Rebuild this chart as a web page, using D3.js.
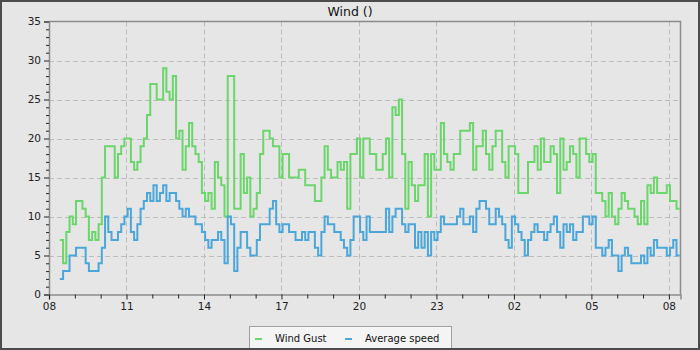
<!DOCTYPE html>
<html>
<head>
<meta charset="utf-8">
<script src="https://cdn.jsdelivr.net/npm/d3@7"></script>
<style>
  html, body { margin: 0; padding: 0; background: #e6e6e6; }
  svg { display: block; font-family: "DejaVu Sans", sans-serif; }
</style>
</head>
<body>
<svg id="chart" width="700" height="350"></svg>
<script>
// Readings taken every 3 hours (0.125 day), starting 0.42 day after the first tick
const startDay = 0.42;
const stepDays = 0.125;

// Wind gust (top series)
const gust = [
  7, 4, 8, 10, 9, 12, 12, 11, 10, 7, 8, 7, 9, 15, 19, 19, 19, 15, 18, 19,
  20, 20, 17, 16, 17, 19, 20, 23, 27, 27, 25, 25, 29, 26, 25, 28, 20, 21, 16, 19,
  22, 19, 18, 17, 13, 12, 13, 11, 17, 15, 14, 10, 28, 28, 11, 11, 18, 13, 15, 10,
  11, 13, 18, 21, 21, 20, 19, 19, 15, 18, 18, 15, 15, 15, 16, 16, 14, 14, 14, 12,
  12, 15, 19, 16, 15, 15, 17, 16, 17, 11, 18, 18, 20, 15, 20, 20, 18, 18, 16, 16,
  18, 20, 15, 24, 23, 25, 18, 11, 17, 14, 12, 14, 14, 18, 10, 18, 16, 16, 22, 18,
  17, 16, 18, 18, 21, 21, 21, 22, 16, 19, 19, 21, 18, 16, 19, 21, 21, 17, 15, 19,
  19, 18, 13, 13, 13, 17, 17, 19, 16, 20, 17, 17, 19, 18, 13, 20, 16, 17, 19, 18,
  15, 20, 20, 18, 17, 18, 13, 13, 12, 10, 13, 10, 9, 11, 13, 12, 11, 11, 10, 9,
  12, 9, 14, 13, 15, 13, 13, 13, 14, 12, 12, 11, 11
];

// Average wind speed (bottom series)
const avgSpeed = [
  2, 3, 3, 5, 5, 6, 6, 6, 4, 3, 3, 3, 4, 6, 10, 8, 7, 7, 8, 9,
  10, 11, 8, 7, 9, 11, 12, 13, 12, 14, 12, 13, 14, 12, 13, 13, 12, 11, 10, 11,
  10, 10, 9, 9, 8, 7, 6, 7, 7, 8, 7, 4, 10, 9, 3, 6, 8, 8, 6, 5,
  5, 7, 9, 9, 9, 11, 12, 9, 8, 9, 9, 8, 8, 7, 7, 8, 7, 8, 8, 6,
  5, 8, 10, 9, 9, 8, 8, 7, 6, 5, 7, 10, 10, 8, 7, 10, 8, 8, 8, 8,
  8, 11, 8, 10, 11, 11, 9, 8, 9, 9, 6, 8, 6, 8, 5, 8, 7, 8, 10, 9,
  9, 9, 9, 10, 11, 9, 9, 10, 8, 11, 12, 12, 11, 9, 9, 11, 10, 9, 7, 6,
  10, 9, 8, 7, 5, 7, 8, 9, 8, 8, 7, 8, 9, 10, 8, 6, 9, 8, 9, 7,
  8, 8, 10, 10, 9, 10, 6, 6, 5, 6, 7, 5, 5, 3, 5, 6, 5, 4, 4, 4,
  5, 4, 6, 5, 7, 6, 6, 6, 5, 6, 7, 5, 5
];

// Date labels every 3 days
const dayTickLabels = ["08", "11", "14", "17", "20", "23", "02", "05", "08"];
const seriesNames = ["Wind Gust", "Average speed"];
const seriesColors = ["#6bd66b", "#4ba6da"];
const yMax = 35;
const dayEnd = 24.45;

const W = 700, H = 350;
const plot = { left: 49, right: 680.5, top: 21.5, bottom: 294.5 };

const svg = d3.select("#chart");

// background and outer frame
svg.append("rect").attr("x", 0).attr("y", 0).attr("width", W).attr("height", H)
  .attr("fill", "#e6e6e6");
svg.append("rect").attr("x", 1).attr("y", 1).attr("width", W - 2).attr("height", H - 2)
  .attr("fill", "none").attr("stroke", "#4c4c4c").attr("stroke-width", 2);

const x = d3.scaleLinear().domain([0, dayEnd]).range([plot.left, plot.right]);
const y = d3.scaleLinear().domain([0, yMax]).range([plot.bottom, plot.top]);

const majorDays = dayTickLabels.map((_, i) => i * 3);
const minorDays = d3.range(0, Math.floor(dayEnd) + 1);

// grid
const grid = svg.append("g").attr("stroke", "#bdbdbd").attr("stroke-dasharray", "5,3")
  .attr("stroke-width", 1);
grid.selectAll("line.h").data(d3.range(5, yMax, 5)).join("line")
  .attr("x1", plot.left).attr("x2", plot.right)
  .attr("y1", d => Math.round(y(d)) + 0.5).attr("y2", d => Math.round(y(d)) + 0.5);
grid.selectAll("line.v").data(majorDays.slice(1)).join("line")
  .attr("y1", plot.top).attr("y2", plot.bottom)
  .attr("x1", d => Math.round(x(d)) + 0.5).attr("x2", d => Math.round(x(d)) + 0.5);

// plot frame (top and right)
svg.append("path")
  .attr("d", `M${plot.left},${plot.top}H${plot.right}V${plot.bottom}`)
  .attr("fill", "none").attr("stroke", "#8c8c8c").attr("stroke-width", 1.5);

// series
svg.append("clipPath").attr("id", "clip").append("rect")
  .attr("x", plot.left).attr("y", plot.top)
  .attr("width", plot.right - plot.left).attr("height", plot.bottom - plot.top);

const line = d3.line()
  .x((d, i) => x(startDay + i * stepDays))
  .y(d => y(d))
  .curve(d3.curveStepAfter);

const lines = svg.append("g").attr("clip-path", "url(#clip)");
[gust, avgSpeed].forEach((vals, k) => {
  lines.append("path").datum(vals)
    .attr("d", line)
    .attr("fill", "none")
    .attr("stroke", seriesColors[k])
    .attr("stroke-width", 2)
    .attr("stroke-linejoin", "miter");
});

// y axis
const yAxis = svg.append("g").attr("transform", `translate(${plot.left},0)`)
  .call(d3.axisLeft(y).tickValues(d3.range(0, yMax + 1, 5)).tickSize(5).tickPadding(3));
yAxis.select(".domain").attr("stroke", "#8c8c8c").attr("stroke-width", 1.5);
yAxis.selectAll(".tick line").attr("stroke", "#222");
yAxis.selectAll(".tick text").attr("font-size", 10.5).attr("fill", "#222")
  .attr("font-family", "DejaVu Sans");
svg.append("g").attr("transform", `translate(${plot.left},0)`)
  .call(d3.axisLeft(y).tickValues(d3.range(0, yMax + 1, 1).filter(v => v % 5))
    .tickSize(3).tickFormat(""))
  .call(g => g.select(".domain").remove())
  .selectAll(".tick line").attr("stroke", "#222");

// x axis
const xAxis = svg.append("g").attr("transform", `translate(0,${plot.bottom})`)
  .call(d3.axisBottom(x).tickValues(majorDays).tickSize(5).tickPadding(3)
    .tickFormat((d, i) => dayTickLabels[i]));
xAxis.select(".domain").attr("stroke", "#8c8c8c").attr("stroke-width", 1.5);
xAxis.selectAll(".tick line").attr("stroke", "#222");
xAxis.selectAll(".tick text").attr("font-size", 10.5).attr("fill", "#222")
  .attr("font-family", "DejaVu Sans");
svg.append("g").attr("transform", `translate(0,${plot.bottom})`)
  .call(d3.axisBottom(x).tickValues(minorDays.filter(d => d % 3)).tickSize(4).tickFormat(""))
  .call(g => g.select(".domain").remove())
  .selectAll(".tick line").attr("stroke", "#222");

// title
svg.append("text").attr("x", W / 2).attr("y", 15.5).attr("text-anchor", "middle")
  .attr("font-size", 12.5).attr("fill", "#111").text("Wind ()");

// legend
const legend = svg.append("g");
legend.append("rect").attr("x", 249.5).attr("y", 326.5).attr("width", 202).attr("height", 24)
  .attr("fill", "#f4f4f4").attr("stroke", "#a0a0a0");
const legendX = [255, 345];
seriesNames.forEach((name, k) => {
  legend.append("line")
    .attr("x1", legendX[k]).attr("x2", legendX[k] + 7)
    .attr("y1", 339).attr("y2", 339)
    .attr("stroke", seriesColors[k]).attr("stroke-width", 2);
  legend.append("text").attr("x", legendX[k] + 20).attr("y", 342)
    .attr("font-size", 10).attr("fill", "#111").text(name);
});

// bottom edge of the frame drawn over the legend
svg.append("rect").attr("x", 0).attr("y", H - 2).attr("width", W).attr("height", 2)
  .attr("fill", "#4c4c4c");
</script>
</body>
</html>
